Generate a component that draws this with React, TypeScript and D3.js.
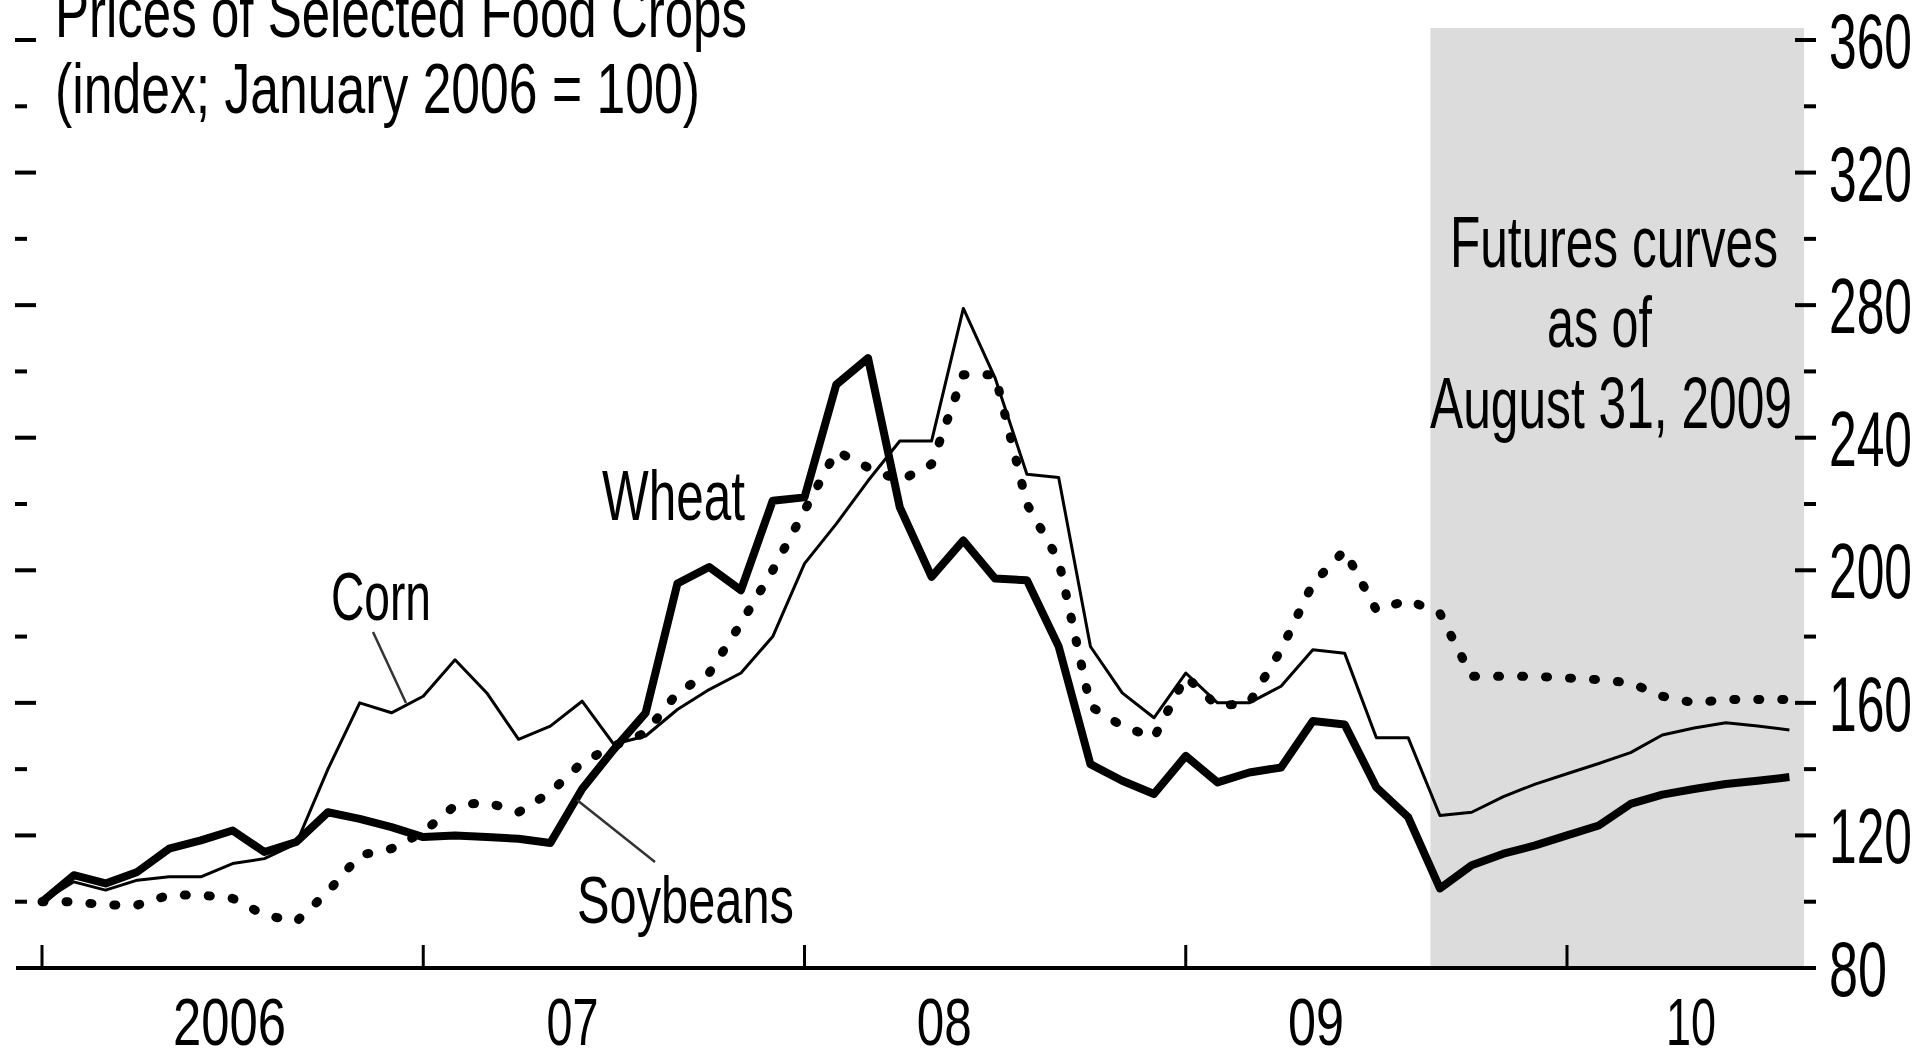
import React from 'react';
import * as d3 from 'd3';

// Month index 0 = January 2006; 0..43 actual (to Aug 2009), 44..55 futures curves
const wheat = [
  100, 108, 105.5, 109, 116, 118.5, 121.5, 115, 118, 127, 125, 122.5,
  119.5, 120, 119.5, 119, 117.7, 134, 146, 157, 196, 201, 194, 221,
  222, 256, 264, 219, 198, 209, 197.5, 197, 177, 141.5, 136.5, 132.5,
  144, 136, 139, 140.5, 154.5, 153.5, 134.5, 125.5, 104, 111, 114.5, 117,
  120, 123, 129.5, 132.3, 134, 135.5, 136.5, 137.6,
];
const corn = [
  100, 106, 103.5, 106.5, 107.5, 107.5, 111.5, 113, 117.5, 140, 160, 157,
  162, 173, 163, 149, 153, 160.5, 147.5, 150, 158, 164, 169, 180,
  202, 214, 227, 239, 239, 279, 258, 229, 228, 177, 163, 155.5,
  169, 160, 160, 165, 176, 175, 149.5, 149.5, 126, 127, 131.7, 135.5,
  138.6, 141.7, 145, 150.3, 152.4, 154, 153, 151.8,
];
const soybeans = [
  100, 100, 99, 99, 102, 102, 101, 96, 94, 103, 114, 116,
  121, 129, 130, 127, 133, 142, 147, 151, 163, 169, 184, 200,
  218, 236, 231, 227, 232, 259, 259, 220, 203, 159, 153, 149.5,
  168, 159, 160, 176, 196, 206, 188, 191, 187, 168, 168, 168,
  167.5, 167, 166, 162, 160, 161, 161, 161,
];
const yearLabels = ['2006', '07', '08', '09', '10'];
const yMajorTicks = [80, 120, 160, 200, 240, 280, 320, 360];
const yAllTicks = [100, 120, 140, 160, 180, 200, 220, 240, 260, 280, 300, 320, 340, 360];
const titleLines = ['Prices of Selected Food Crops', '(index; January 2006 = 100)'];
const futuresLines = ['Futures curves', 'as of', 'August 31, 2009'];

// layout
const W = 1922;
const H = 1050;
const FONT_NAME = 'Liberation Sans';
const FONT = "'Liberation Sans', Arial, Helvetica, sans-serif";
const x = d3.scaleLinear().domain([0, 48]).range([42, 1567]);
const y = d3.scaleLinear().domain([80, 360]).range([968, 40]);
const shadeStart = 43.7;
const shadeEnd = 55.46;
const shadeTop = 28;
const yearLabelCenters = [5.9, 16.7, 28.4, 40.1, 51.9];
const yearLabelLens = [113, 52, 55, 56, 50];

let ctx: CanvasRenderingContext2D | null = null;
function measure(text: string, size: number): number {
  if (!ctx) {
    const c = document.createElement('canvas');
    ctx = c.getContext('2d');
  }
  if (!ctx) return text.length * size * 0.5;
  ctx.font = `${size}px "${FONT_NAME}", Arial, sans-serif`;
  return ctx.measureText(text).width || text.length * size * 0.5;
}

// condensed text: natural glyphs squeezed horizontally to the wanted width
function T(props: { x: number; y: number; len: number; size: number; text: string }) {
  const nat = measure(props.text, props.size);
  const sx = props.len / nat;
  return (
    <text
      transform={`translate(${props.x},${props.y}) scale(${sx},1)`}
      fontFamily={FONT}
      fontSize={props.size}
      fill="#000"
    >
      {props.text}
    </text>
  );
}

export default function App() {
  const line = d3
    .line<number>()
    .x((_, i) => x(i))
    .y((d) => y(d));

  const yearTicks = [0, 12, 24, 36, 48];

  return (
    <svg
      width={W}
      height={H}
      style={{ position: 'fixed', left: 0, top: 0, display: 'block', background: '#fff' }}
    >
      <rect x={0} y={0} width={W} height={H} fill="#fff" />
      {/* futures shading */}
      <rect
        x={x(shadeStart)}
        y={shadeTop}
        width={x(shadeEnd) - x(shadeStart)}
        height={y(80) - shadeTop}
        fill="#dcdcdc"
      />

      {/* left ticks */}
      {yAllTicks.map((v) => (
        <line
          key={'l' + v}
          x1={15}
          x2={v % 40 === 0 ? 36 : 27}
          y1={y(v)}
          y2={y(v)}
          stroke="#000"
          strokeWidth={4}
        />
      ))}
      {/* right ticks */}
      {yAllTicks.map((v) => (
        <line
          key={'r' + v}
          x1={v % 40 === 0 ? 1795 : 1804}
          x2={1816}
          y1={y(v)}
          y2={y(v)}
          stroke="#000"
          strokeWidth={4}
        />
      ))}
      {yMajorTicks.map((v) => (
        <T key={'rl' + v} x={1829} y={y(v) + 28} len={v >= 100 ? 83 : 58} size={77} text={String(v)} />
      ))}

      {/* x axis */}
      <line x1={16} x2={1816} y1={y(80)} y2={y(80)} stroke="#000" strokeWidth={4} />
      {yearTicks.map((m) => (
        <line key={'xt' + m} x1={x(m)} x2={x(m)} y1={y(80) - 23} y2={y(80)} stroke="#000" strokeWidth={3} />
      ))}
      {yearLabels.map((lab, i) => (
        <T
          key={'xl' + lab}
          x={x(yearLabelCenters[i]) - yearLabelLens[i] / 2}
          y={1045}
          len={yearLabelLens[i]}
          size={67}
          text={lab}
        />
      ))}

      {/* series */}
      <path d={line(corn) || ''} fill="none" stroke="#000" strokeWidth={3} strokeLinejoin="round" />
      <path d={line(wheat) || ''} fill="none" stroke="#000" strokeWidth={8} strokeLinejoin="round" />
      <path
        d={line(soybeans) || ''}
        fill="none"
        stroke="#000"
        strokeWidth={9}
        strokeDasharray="2 22"
        strokeLinecap="round"
        strokeLinejoin="round"
      />

      {/* labels and leaders */}
      <T x={331} y={620} len={100} size={68} text="Corn" />
      <line x1={373} y1={632} x2={406} y2={703} stroke="#333" strokeWidth={2.5} />
      <T x={602} y={520} len={143} size={70} text="Wheat" />
      <T x={577} y={923} len={217} size={66} text="Soybeans" />
      <line x1={577} y1={800} x2={655} y2={862} stroke="#333" strokeWidth={2.5} />

      {/* futures annotation */}
      <T x={1450} y={267} len={328} size={72} text={futuresLines[0]} />
      <T x={1547} y={347} len={105} size={72} text={futuresLines[1]} />
      <T x={1430} y={428} len={362} size={72} text={futuresLines[2]} />

      {/* title */}
      <T x={55} y={37} len={692} size={70} text={titleLines[0]} />
      <T x={55} y={113} len={645} size={70} text={titleLines[1]} />
    </svg>
  );
}
